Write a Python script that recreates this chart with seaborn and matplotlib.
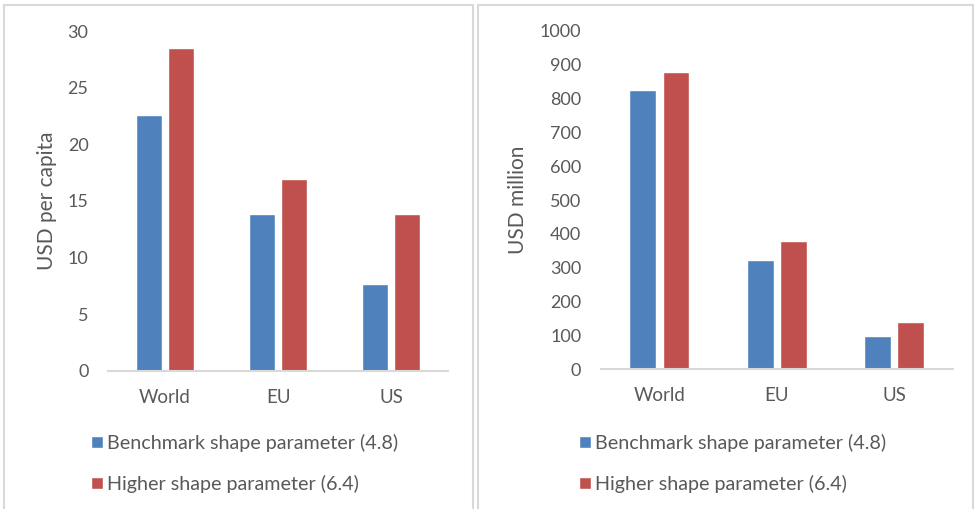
import matplotlib
matplotlib.use("Agg")
import matplotlib.pyplot as plt
from matplotlib.patches import Rectangle, Patch
import pandas as pd
import seaborn as sns

regions = ["World", "EU", "US"]
series_names = ["Benchmark shape parameter (4.8)", "Higher shape parameter (6.4)"]
per_capita_benchmark = [22.6, 13.8, 7.7]
per_capita_higher = [28.5, 16.9, 13.8]
million_benchmark = [825, 323, 98]
million_higher = [880, 378, 139]
per_capita_ticks = [0, 5, 10, 15, 20, 25, 30]
million_ticks = [0, 100, 200, 300, 400, 500, 600, 700, 800, 900, 1000]

BLUE = "#4F81BD"
RED = "#C0504D"
TEXT = "#595959"
LINE = "#D9D9D9"

sns.set_theme(style="white")
plt.rcParams["font.family"] = ["Lato", "DejaVu Sans"]

W, H = 975, 509
fig = plt.figure(figsize=(W / 100, H / 100), dpi=100)


def frac_rect(x0, y_top, x1, y_bottom):
    return [x0 / W, 1 - y_bottom / H, (x1 - x0) / W, (y_bottom - y_top) / H]


def panel(rect, bench, high, ticks, ylabel, label_x, legend_x):
    ax = fig.add_axes(frac_rect(*rect))
    df = pd.DataFrame({
        "region": regions * 2,
        "series": [series_names[0]] * 3 + [series_names[1]] * 3,
        "value": list(bench) + list(high),
    })
    sns.barplot(data=df, x="region", y="value", hue="series", order=regions,
                hue_order=series_names, palette=[BLUE, RED], width=0.565,
                gap=0.19, saturation=1, ax=ax, legend=False)
    ax.set_ylim(ticks[0], ticks[-1])
    ax.set_yticks(ticks)
    ax.set_xlim(-0.5, 2.5)
    ax.set_xlabel("")
    ax.set_ylabel(ylabel, color=TEXT, fontsize=15)
    ax.yaxis.set_label_coords(label_x, 0.5)
    for side in ["top", "right", "left"]:
        ax.spines[side].set_visible(False)
    ax.spines["bottom"].set_color(LINE)
    ax.spines["bottom"].set_linewidth(1.5)
    ax.tick_params(axis="both", length=0, labelsize=13, colors=TEXT)
    ax.tick_params(axis="x", labelsize=13.5, pad=13)
    ax.tick_params(axis="y", pad=14)
    handles = [Patch(facecolor=BLUE), Patch(facecolor=RED)]
    fig.legend(handles, series_names, loc="upper left",
               bbox_to_anchor=(legend_x / W, 1 - 434 / H),
               frameon=False, borderpad=0, borderaxespad=0,
               fontsize=14.2, labelcolor=TEXT, handlelength=0.6,
               handleheight=0.6, handletextpad=0.2, labelspacing=1.15)
    return ax


# chart-area borders
fig.patches.append(Rectangle((4 / W, -0.05), 469 / W, 1.05 - 5 / H,
                             transform=fig.transFigure, fill=False,
                             edgecolor=LINE, linewidth=1.5))
fig.patches.append(Rectangle((478 / W, -0.05), 495 / W, 1.05 - 5 / H,
                             transform=fig.transFigure, fill=False,
                             edgecolor=LINE, linewidth=1.5))

panel((108, 31, 448, 370.7), per_capita_benchmark, per_capita_higher,
      per_capita_ticks, "USD per capita", -0.15, 91)
panel((600.7, 31, 952.7, 369.3), million_benchmark, million_higher,
      million_ticks, "USD million", -0.207, 579)

fig.savefig("out.png", dpi=100, facecolor="white")
